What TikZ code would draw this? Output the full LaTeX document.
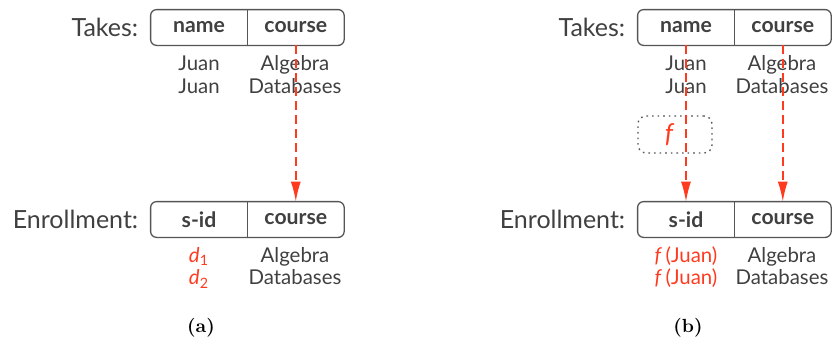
\documentclass[tikz,border=0pt]{standalone}
\usepackage{fontspec}
\newfontfamily\lato{Lato}
\usetikzlibrary{positioning, arrows.meta}
\usepackage{xcolor}

\definecolor{mapred}{RGB}{255,59,31}
\definecolor{txtgray}{RGB}{64,64,64}
\definecolor{boxgray}{RGB}{85,85,85}

\tikzset{
  hdr/.style={minimum width=48pt, minimum height=17.5pt, inner sep=0pt,
    font=\lato\bfseries\fontsize{10.6}{12}\selectfont, text=txtgray},
  cell/.style={anchor=base, inner sep=0pt,
    font=\lato\fontsize{10.2}{12}\selectfont, text=txtgray},
  lbl/.style={inner sep=0pt, font=\lato\fontsize{12.5}{14}\selectfont, text=txtgray},
  tbl/.style={draw=boxgray, line width=0.65pt, rounded corners=3pt},
  mapto/.style={draw=mapred, line width=0.75pt, dash pattern=on 4.5pt off 2.5pt,
    -{Latex[length=10pt,width=5pt]}},
  fbox/.style={draw=boxgray, dash pattern=on 0.8pt off 2pt, line width=0.7pt,
    rounded corners=4pt, minimum width=37pt, minimum height=18.5pt, inner sep=0pt,
    font=\lato\itshape\fontsize{13}{14}\selectfont, text=mapred},
  capt/.style={inner sep=0pt, text=black, font=\bfseries\fontsize{9.5}{11}\selectfont}
}

\begin{document}
\begin{tikzpicture}[x=0.5pt, y=-0.5pt]
    % Paramètres (en pixels)
    \def\rowA{70}    % premiere ligne sous Takes
    \def\rowB{93}    % deuxieme ligne sous Takes
    \def\rowC{262}   % premiere ligne sous Enrollment
    \def\rowD{285}   % deuxieme ligne sous Enrollment

    \useasboundingbox (0,0) rectangle (832,337);

    % Les deux sous-figures (a) et (b)
    \foreach \dx/\p in {0/a, 487/b} {
        % Table Takes
        \node[hdr] (takes-name-\p) at (199+\dx, 27.5) {name};
        \node[hdr, right=0pt of takes-name-\p] (takes-course-\p) {course};
        \draw[tbl] (takes-name-\p.north west) rectangle (takes-course-\p.south east);
        \draw[tbl] (takes-name-\p.north east) -- (takes-name-\p.south east);
        \node[lbl, left=6pt of takes-name-\p] (takes-lbl-\p) {Takes:};

        % Table Enrollment
        \node[hdr] (enr-sid-\p) at (199+\dx, 219.5) {s-id};
        \node[hdr, right=0pt of enr-sid-\p] (enr-course-\p) {course};
        \draw[tbl] (enr-sid-\p.north west) rectangle (enr-course-\p.south east);
        \draw[tbl] (enr-sid-\p.north east) -- (enr-sid-\p.south east);
        \node[lbl, left=6pt of enr-sid-\p] (enr-lbl-\p) {Enrollment:};

        % Colonne course
        \node[cell] (takes-c1-\p) at (295+\dx, \rowA) {Algebra};
        \node[cell] (takes-c2-\p) at (295+\dx, \rowB) {Databases};
        \node[cell] (enr-c1-\p) at (295+\dx, \rowC) {Algebra};
        \node[cell] (enr-c2-\p) at (295+\dx, \rowD) {Databases};

        % Fleche course -> course
        \draw[mapto] (takes-course-\p.south) -- (enr-course-\p.north);

        % Legende
        \node[capt] (capt-\p) at (201+\dx, 328) {(\p)};
    }

    % Colonne name, sous-figure (a)
    \node[cell] (takes-n1-a) at (199, \rowA) {Juan};
    \node[cell] (takes-n2-a) at (199, \rowB) {Juan};
    \node[cell, text=mapred] (enr-s1-a) at (199, \rowC) {\textit{d}\textsubscript{1}};
    \node[cell, text=mapred] (enr-s2-a) at (199, \rowD) {\textit{d}\textsubscript{2}};

    % Colonne name, sous-figure (b)
    \node[cell] (takes-n1-b) at (686, \rowA) {Juan};
    \node[cell] (takes-n2-b) at (686, \rowB) {Juan};
    \node[cell, text=mapred] (enr-s1-b) at (686, \rowC) {\textit{f}\,(Juan)};
    \node[cell, text=mapred] (enr-s2-b) at (686, \rowD) {\textit{f}\,(Juan)};

    % Fonction f
    \node[fbox] (fun-b) at (675, 134.5) {f\hspace*{6pt}};
    \draw[mapto] (takes-name-b.south) -- (enr-sid-b.north);

\end{tikzpicture}
\end{document}
